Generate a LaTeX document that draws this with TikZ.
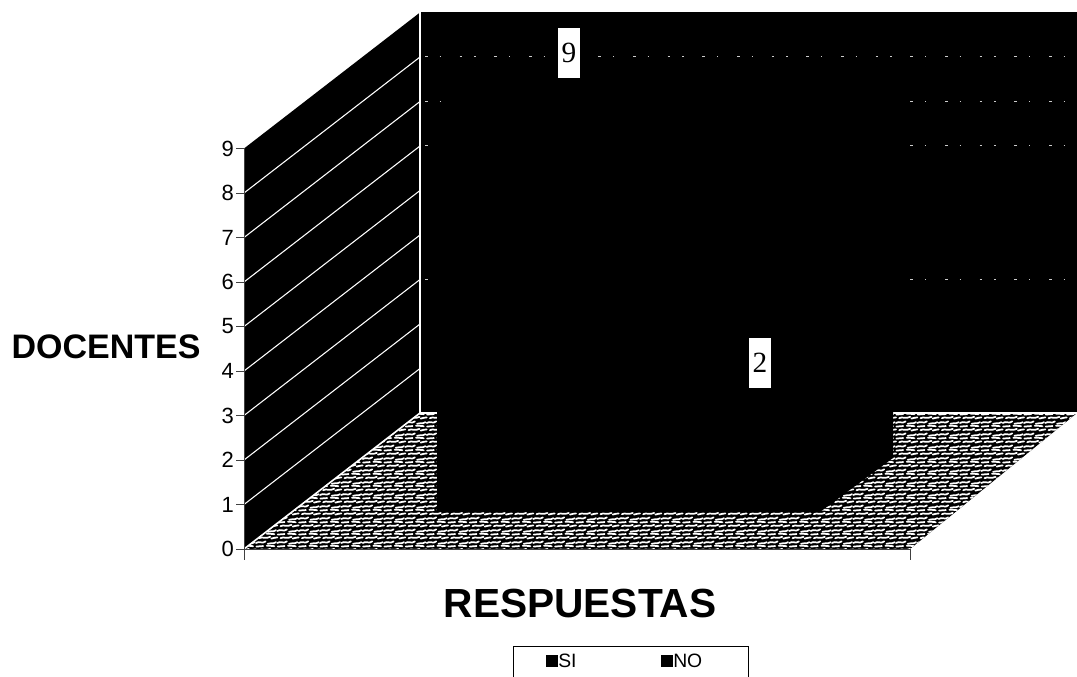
\documentclass[tikz,border=0pt]{standalone}
\usepackage{fontspec}
\setmainfont{Liberation Sans}
\newfontfamily\myNumFont{Liberation Serif}
\usetikzlibrary{patterns}
% texture of the floor
\pgfdeclarepatternformonly{floorweave}{\pgfpoint{-2pt}{-2pt}}{\pgfpoint{18pt}{11pt}}{\pgfpoint{16pt}{9pt}}{
\pgfsetlinewidth{1.3pt}
\pgfsetroundcap
\pgfpathmoveto{\pgfpoint{0pt}{1.5pt}}
\pgfpathcurveto{\pgfpoint{2.4pt}{3.3pt}}{\pgfpoint{4.8pt}{0.6pt}}{\pgfpoint{7.2pt}{2.7pt}}
\pgfpathmoveto{\pgfpoint{8.8pt}{0.9pt}}
\pgfpathcurveto{\pgfpoint{10.9pt}{2.4pt}}{\pgfpoint{12.5pt}{0.3pt}}{\pgfpoint{15pt}{2.1pt}}
\pgfpathmoveto{\pgfpoint{2.4pt}{5.1pt}}
\pgfpathcurveto{\pgfpoint{4.8pt}{6.6pt}}{\pgfpoint{7.2pt}{4.2pt}}{\pgfpoint{10.6pt}{6.1pt}}
\pgfpathmoveto{\pgfpoint{11.5pt}{4.8pt}}
\pgfpathcurveto{\pgfpoint{13.1pt}{6.3pt}}{\pgfpoint{14.4pt}{4.5pt}}{\pgfpoint{16pt}{5.7pt}}
\pgfpathmoveto{\pgfpoint{0.3pt}{7.8pt}}
\pgfpathcurveto{\pgfpoint{2.2pt}{8.8pt}}{\pgfpoint{3.8pt}{7.3pt}}{\pgfpoint{5.4pt}{8.2pt}}
\pgfpathmoveto{\pgfpoint{8pt}{8.4pt}}
\pgfpathcurveto{\pgfpoint{10.2pt}{9.3pt}}{\pgfpoint{11.8pt}{7.5pt}}{\pgfpoint{13.8pt}{8.1pt}}
\pgfusepath{stroke}
}
\newcommand{\myShowLevel}[1]{
\draw[tickline] (236,549-44.5*#1) -- (244,549-44.5*#1);
\node[ticklabel] (tick#1) at (234,549-44.5*#1) {#1};
}
\newcommand{\myWallLine}[1]{
\draw[wallgrid] (244,549-44.5*#1) -- (420,413-44.5*#1);
}

\begin{document}
\begin{tikzpicture}[x=0.75pt,y=-0.75pt,
	wall/.style={fill=black},
	wallgrid/.style={white,line width=0.8pt},
	backgrid/.style={white!80!black,line width=0.5pt,dash pattern=on 2pt off 9pt on 1pt off 14pt},
	bar/.style={fill=black},
	tickline/.style={black!75,line width=0.6pt},
	ticklabel/.style={anchor=east,inner sep=0pt,font=\fontsize{16.5}{19}\selectfont},
	axistitle/.style={inner sep=0pt,font=\bfseries\fontsize{25.5}{30}\selectfont},
	datalabel/.style={fill=white,inner sep=0pt,minimum width=16.5pt,minimum height=38pt,font=\myNumFont\fontsize{22}{24}\selectfont},
	legendtext/.style={anchor=west,inner sep=0pt,font=\fontsize{14.5}{16}\selectfont},
	legendkey/.style={fill=black,inner sep=0pt,minimum size=8.5pt}]
	\useasboundingbox (0,0) rectangle (1077,677);
	% define points
	\coordinate (FL) at (244,549);
	\coordinate (FR) at (910,549);
	\coordinate (BL) at (420,413);
	\coordinate (BR) at (1077,413);
	\coordinate (TL) at (244,148.5);
	\coordinate (TB) at (420,12.5);
	% walls
	\fill[wall] (TB) rectangle (1077,413);
	\fill[wall] (FL) -- (TL) -- (TB) -- (BL) -- cycle;
	% floor
	\fill[black] (FL) -- (FR) -- (BR) -- (BL) -- cycle;
	\fill[pattern=floorweave,pattern color=white] (FL) -- (FR) -- (BR) -- (BL) -- cycle;
	\draw[white,line width=1.2pt] (FL) -- (BL) -- (BR);
	% grid of the walls
	\myWallLine{1} \myWallLine{2} \myWallLine{3} \myWallLine{4}
	\myWallLine{5} \myWallLine{6} \myWallLine{7} \myWallLine{8}
	\draw[wallgrid] (TB) -- (BL);
	\draw[backgrid] (425,56) -- (1077,56);
	\draw[backgrid] (425,101) -- (1077,101);
	\draw[backgrid] (425,145) -- (1077,145);
	\draw[backgrid] (425,279) -- (1077,279);
	% bar SI
	\fill[bar] (437,512) -- (820,512) -- (893,458) -- (893,58) -- (510,58) -- (437,112) -- cycle;
	% axes
	\draw[tickline] (TL) -- (244,560);
	\draw[tickline] (FL) -- (FR) -- (910,560);
	\myShowLevel{0} \myShowLevel{1} \myShowLevel{2} \myShowLevel{3} \myShowLevel{4}
	\myShowLevel{5} \myShowLevel{6} \myShowLevel{7} \myShowLevel{8} \myShowLevel{9}
	% data labels
	\node[datalabel] (valSI) at (569,53) {9};
	\node[datalabel] (valNO) at (760,363) {2};
	% titles
	\node[axistitle] (docentes) at (106,347) {DOCENTES};
	\node[axistitle,font=\bfseries\fontsize{30.5}{34}\selectfont] (respuestas) at (580,603) {RESPUESTAS};
	% legend
	\draw[black,line width=0.6pt] (513,690) -- (513,646) -- (748,646) -- (748,690);
	\node[legendkey] (keySI) at (552,661) {};
	\node[legendtext] (txtSI) at (558,661) {SI};
	\node[legendkey] (keyNO) at (667,661) {};
	\node[legendtext] (txtNO) at (673,661) {NO};
\end{tikzpicture}
\end{document}
